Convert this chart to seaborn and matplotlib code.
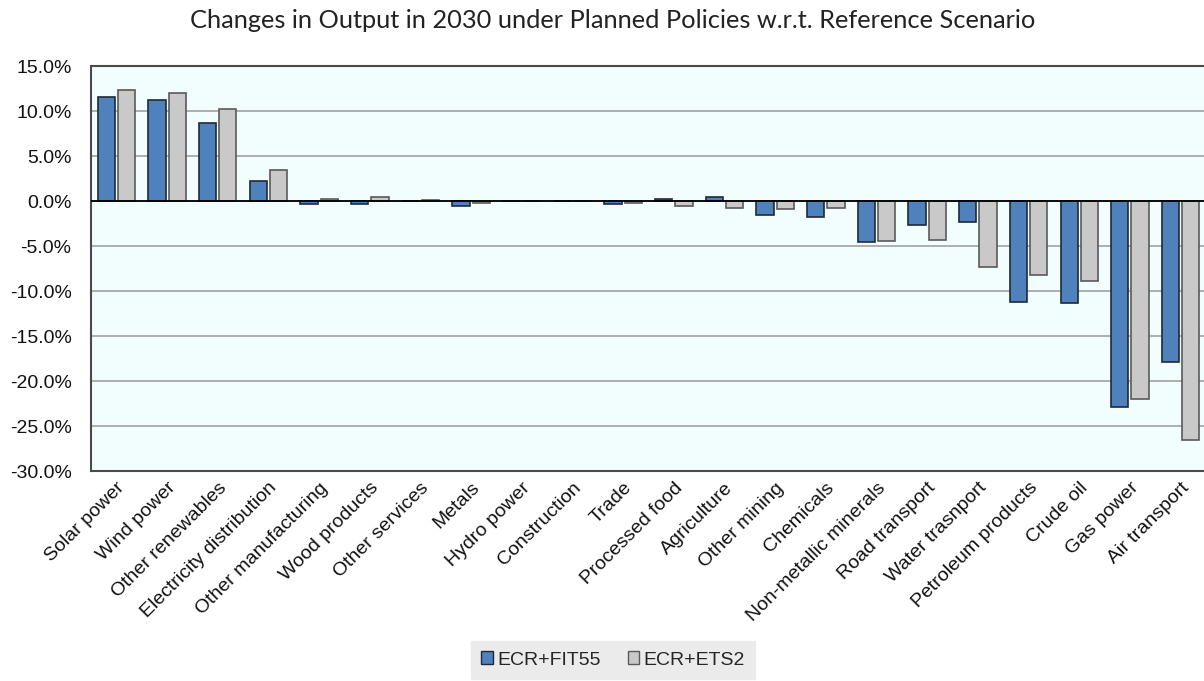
import matplotlib
matplotlib.use("Agg")
import matplotlib.pyplot as plt
import seaborn as sns
import pandas as pd
from matplotlib.ticker import FuncFormatter, MultipleLocator

categories = ["Solar power", "Wind power", "Other renewables", "Electricity distribution",
              "Other manufacturing", "Wood products", "Other services", "Metals",
              "Hydro power", "Construction", "Trade", "Processed food", "Agriculture",
              "Other mining", "Chemicals", "Non-metallic minerals", "Road transport",
              "Water trasnport", "Petroleum products", "Crude oil", "Gas power", "Air transport"]
fit55 = [11.6, 11.2, 8.7, 2.2, -0.35, -0.3, 0.05, -0.5, 0.0, -0.05, -0.3, 0.25, 0.45,
         -1.55, -1.8, -4.6, -2.7, -2.3, -11.2, -11.3, -22.9, -17.9]
ets2 = [12.3, 12.0, 10.2, 3.4, 0.2, 0.5, 0.1, -0.2, 0.0, -0.05, -0.25, -0.5, -0.8,
        -0.85, -0.75, -4.4, -4.3, -7.3, -8.2, -8.9, -22.0, -26.6]
series_names = ["ECR+FIT55", "ECR+ETS2"]

df = pd.DataFrame({
    "category": categories * 2,
    "value": fit55 + ets2,
    "scenario": [series_names[0]] * len(categories) + [series_names[1]] * len(categories),
})

sns.set_theme(style="white")
plt.rcParams["font.family"] = ["Liberation Sans", "DejaVu Sans"]

W, H = 1204, 681
fig = plt.figure(figsize=(W / 100, H / 100), dpi=100)
ax = fig.add_axes([91 / W, 1 - 471 / H, (1206 - 91) / W, (471 - 66) / H])
ax.set_facecolor("#F2FEFE")

colors = {"ECR+FIT55": "#4F81BD", "ECR+ETS2": "#C9C9C9"}
sns.barplot(data=df, x="category", y="value", hue="scenario", palette=colors,
            saturation=1, width=0.8, gap=0.15, ax=ax, zorder=3, legend=True)

edgecols = ["#1F2A38", "#5A5A5A"]
for cont, ec in zip(ax.containers, edgecols):
    for p in cont:
        p.set_edgecolor(ec)
        p.set_linewidth(1.2)

ax.set_ylim(-30, 15)
ax.yaxis.set_major_locator(MultipleLocator(5))
ax.yaxis.set_major_formatter(FuncFormatter(lambda v, _: f"{v:.1f}%"))
ax.grid(axis="y", color="#A8A8A8", linewidth=1.3, zorder=0)
ax.set_axisbelow(True)
ax.axhline(0, color="black", linewidth=1.3, zorder=4)
ax.set_xlim(-0.5, len(categories) - 0.5)

for s in ax.spines.values():
    s.set_color("#4A4A4A")
    s.set_linewidth(1.5)

ax.tick_params(axis="y", length=0, pad=14, labelsize=14, labelcolor="#111111")
ax.tick_params(axis="x", length=0, pad=6, labelsize=14, labelcolor="#111111")
plt.setp(ax.get_xticklabels(), rotation=45, ha="right", rotation_mode="anchor")
ax.set_xlabel("")
ax.set_ylabel("")

fig.text(613 / W, 1 - 21 / H, "Changes in Output in 2030 under Planned Policies w.r.t. Reference Scenario",
         ha="center", va="center", fontsize=18.3, family=["Lato", "DejaVu Sans"], color="#222222")

handles, labels = ax.get_legend_handles_labels()
ax.legend_.remove()
for h, ec in zip(handles, edgecols):
    h.set_edgecolor(ec)
    h.set_linewidth(1.0)
leg = fig.legend(handles, labels, loc="center", bbox_to_anchor=(613 / W, 1 - 660 / H),
                 ncol=2, fontsize=14, frameon=True, fancybox=False,
                 facecolor="#EBEBEB", edgecolor="#EBEBEB", framealpha=1,
                 handlelength=0.6, handleheight=0.6, handletextpad=0.2,
                 columnspacing=1.4, borderpad=0.55)

fig.savefig("out.png", dpi=100)
